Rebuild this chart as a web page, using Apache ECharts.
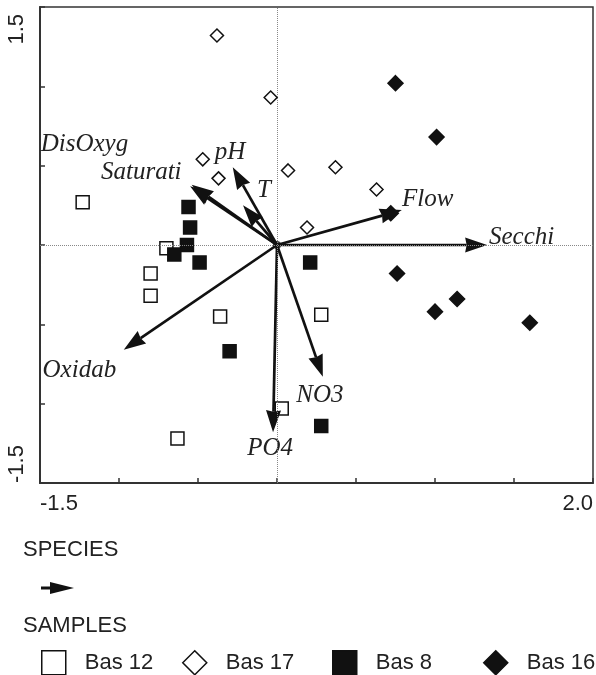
<!DOCTYPE html>
<html>
<head>
<meta charset="UTF-8">
<title>CCA biplot</title>
<script src="https://cdn.jsdelivr.net/npm/echarts@6/dist/echarts.min.js"></script>
<style>
    html, body { margin: 0; padding: 0; background: #fff; }
    #main { width: 596px; height: 675px; }
</style>
</head>
<body>
<div id="main"></div>
<script type="text/javascript">
    // sample scores (axis 1, axis 2)
    var bas12 = [[-1.23, 0.27], [-0.70, -0.02], [-0.80, -0.18], [-0.80, -0.32], [-0.36, -0.45], [0.28, -0.44], [0.03, -1.03], [-0.63, -1.22]];
    var bas17 = [[-0.38, 1.32], [-0.04, 0.93], [-0.47, 0.54], [-0.37, 0.42], [0.07, 0.47], [0.37, 0.49], [0.63, 0.35], [0.19, 0.11]];
    var bas8 = [[-0.56, 0.24], [-0.55, 0.11], [-0.57, 0.0], [-0.65, -0.06], [-0.49, -0.11], [-0.30, -0.67], [0.21, -0.11], [0.28, -1.14]];
    var bas16 = [[0.75, 1.02], [1.01, 0.68], [0.72, 0.20], [0.76, -0.18], [1.00, -0.42], [1.14, -0.34], [1.60, -0.49]];
    var sampleNames = ['Bas 12', 'Bas 17', 'Bas 8', 'Bas 16'];

    // environmental variables (arrow tips)
    var speciesNames = ['Secchi', 'Flow', 'T', 'pH', 'Saturati', 'DisOxyg', 'Oxidab', 'PO4', 'NO3'];
    var speciesX = [1.33, 0.79, -0.215, -0.28, -0.55, -0.54, -0.97, -0.025, 0.29];
    var speciesY = [0, 0.22, 0.25, 0.49, 0.37, 0.38, -0.66, -1.18, -0.83];
    // where each arrow's name sits (axis units)
    var labelAtX = [1.548, 0.954, -0.082, -0.297, -0.859, -1.219, -1.251, -0.044, 0.272];
    var labelAtY = [0.05, 0.29, 0.347, 0.586, 0.46, 0.636, -0.788, -1.285, -0.945];

    // axes
    var xMin = -1.5, xMax = 2.0, yMin = -1.5, yMax = 1.5;
    var xTickLabels = ['-1.5', '2.0'];
    var yTickLabels = ['-1.5', '1.5'];

    var ink = '#111';
    var sansFont = 'Liberation Sans';

    function endLabels(lo, hi, labels, hiStyle) {
        return function (v) {
            if (Math.abs(v - lo) < 1e-9) return labels[0];
            if (Math.abs(v - hi) < 1e-9) return hiStyle ? '{' + hiStyle + '|' + labels[1] + '}' : labels[1];
            return '';
        };
    }

    var speciesData = speciesNames.map(function (n, i) {
        return { name: n, value: [speciesX[i], speciesY[i], labelAtX[i], labelAtY[i]] };
    });

    function renderArrow(params, api) {
        var o = api.coord([0, 0]);
        var tip = api.coord([api.value(0), api.value(1)]);
        var lab = api.coord([api.value(2), api.value(3)]);
        var dx = tip[0] - o[0], dy = tip[1] - o[1];
        var len = Math.sqrt(dx * dx + dy * dy);
        var ux = dx / len, uy = dy / len;
        var px = -uy, py = ux;
        var headLen = 22, headW = 7.5;
        var bx = tip[0] - ux * headLen, by = tip[1] - uy * headLen;
        var nx = bx + ux * 1.5, ny = by + uy * 1.5;
        return {
            type: 'group',
            children: [{
                type: 'line',
                shape: { x1: o[0], y1: o[1], x2: nx, y2: ny },
                style: { stroke: ink, lineWidth: 2.7 }
            }, {
                type: 'polygon',
                shape: { points: [tip, [bx + px * headW, by + py * headW], [nx, ny], [bx - px * headW, by - py * headW]] },
                style: { fill: ink }
            }, {
                type: 'text',
                x: lab[0], y: lab[1],
                style: {
                    text: speciesNames[params.dataIndex],
                    font: 'italic 25px "Liberation Serif"',
                    fill: '#222',
                    align: 'center',
                    verticalAlign: 'middle'
                }
            }]
        };
    }

    var sampleStyles = [
        { symbol: 'rect', size: 13, fill: '#fff' },
        { symbol: 'diamond', size: 13, fill: '#fff' },
        { symbol: 'rect', size: 13, fill: ink },
        { symbol: 'diamond', size: 15, fill: ink }
    ];
    var sampleData = [bas12, bas17, bas8, bas16];

    var series = [{
        // dotted zero lines
        name: 'zero',
        type: 'scatter',
        data: [],
        z: 1,
        markLine: {
            silent: true,
            symbol: 'none',
            animation: false,
            label: { show: false },
            lineStyle: { type: 'dotted', color: '#888', width: 1 },
            data: [{ xAxis: 0 }, { yAxis: 0 }]
        }
    }];

    sampleNames.forEach(function (n, i) {
        series.push({
            name: n,
            type: 'scatter',
            symbol: sampleStyles[i].symbol,
            symbolSize: sampleStyles[i].size,
            itemStyle: { color: sampleStyles[i].fill, borderColor: ink, borderWidth: 1.5, opacity: 1 },
            z: 2,
            data: sampleData[i]
        });
    });

    series.push({
        name: 'species',
        type: 'custom',
        renderItem: renderArrow,
        clip: false,
        z: 3,
        encode: { x: 0, y: 1 },
        data: speciesData
    });
    series.push({
        name: 'origin',
        type: 'scatter',
        symbol: 'circle',
        symbolSize: 8,
        itemStyle: { color: ink },
        z: 4,
        data: [[0, 0]]
    });

    var legendLeft = [41, 182, 332, 483];
    var legends = sampleNames.map(function (n, i) {
        return {
            data: [n],
            left: legendLeft[i],
            top: 650,
            padding: 0,
            itemWidth: 24,
            itemHeight: 24,
            selectedMode: false,
            itemStyle: { borderColor: ink, borderWidth: 1.5 },
            textStyle: { fontFamily: sansFont, fontSize: 22, color: '#222', padding: [0, 0, 0, 14] }
        };
    });

    var myChart = echarts.init(document.getElementById('main'));
    var option = {
        animation: false,
        backgroundColor: '#fff',
        grid: { left: 40, top: 7, right: 2, bottom: 192, show: true, borderColor: '#333', borderWidth: 1.5 },
        xAxis: {
            type: 'value',
            min: xMin, max: xMax, interval: 0.5,
            axisLine: { onZero: false, lineStyle: { color: '#333', width: 2 } },
            axisTick: { inside: true, length: 5, lineStyle: { color: '#333', width: 1.5 } },
            splitLine: { show: false },
            axisLabel: {
                margin: 10,
                fontFamily: sansFont, fontSize: 22, color: '#222',
                alignMinLabel: 'left', alignMaxLabel: 'right',
                formatter: endLabels(xMin, xMax, xTickLabels)
            }
        },
        yAxis: {
            type: 'value',
            min: yMin, max: yMax, interval: 0.5,
            axisLine: { onZero: false, lineStyle: { color: '#333', width: 2 } },
            axisTick: { inside: true, length: 5, lineStyle: { color: '#333', width: 1.5 } },
            splitLine: { show: false },
            axisLabel: {
                rotate: 90,
                margin: 12,
                fontFamily: sansFont, fontSize: 22, color: '#222',
                alignMinLabel: 'left', alignMaxLabel: 'right',
                formatter: endLabels(yMin, yMax, yTickLabels, 'hi'),
                rich: {
                    hi: { fontFamily: sansFont, fontSize: 22, color: '#222', padding: [0, 7, 0, 0] }
                }
            }
        },
        legend: legends,
        graphic: [
            { type: 'text', x: 23, y: 550, style: { text: 'SPECIES', font: '22px "Liberation Sans"', fill: '#222', verticalAlign: 'middle' } },
            { type: 'line', shape: { x1: 41, y1: 588, x2: 53, y2: 588 }, style: { stroke: ink, lineWidth: 3 } },
            { type: 'polygon', shape: { points: [[50, 582], [74, 588], [50, 594]] }, style: { fill: ink } },
            { type: 'text', x: 23, y: 626, style: { text: 'SAMPLES', font: '22px "Liberation Sans"', fill: '#222', verticalAlign: 'middle' } }
        ],
        series: series
    };
    myChart.setOption(option);
</script>
</body>
</html>
